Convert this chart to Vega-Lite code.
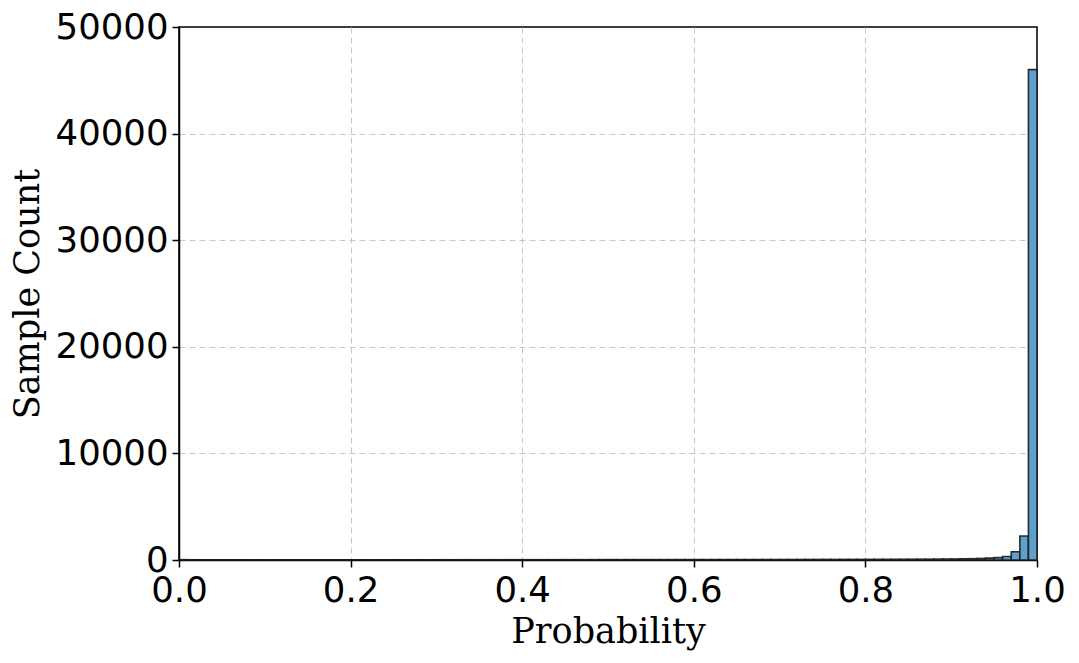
{
  "$schema": "https://vega.github.io/schema/vega-lite/v6.json",
  "width": 858,
  "height": 533,
  "autosize": {"type": "none"},
  "padding": {"left": 179, "top": 27, "right": 42, "bottom": 103},
  "background": "white",
  "config": {
    "view": {"stroke": "black", "strokeWidth": 1.5},
    "axis": {
      "labelFont": "DejaVu Sans",
      "labelFontSize": 35.5,
      "labelColor": "black",
      "titleFont": "DejaVu Serif",
      "titleFontSize": 35,
      "titleFontWeight": "normal",
      "titleColor": "black",
      "domainColor": "black",
      "domainWidth": 1.5,
      "tickColor": "black",
      "tickSize": 7,
      "tickWidth": 1.5,
      "gridColor": "#c8c8c8",
      "gridDash": [6, 4],
      "gridWidth": 1,
      "labelPadding": 4
    }
  },
  "data": {
    "values": [
      {"start": 0.00, "end": 0.01, "count": 30},
      {"start": 0.01, "end": 0.02, "count": 22},
      {"start": 0.02, "end": 0.03, "count": 18},
      {"start": 0.03, "end": 0.04, "count": 20},
      {"start": 0.04, "end": 0.05, "count": 17},
      {"start": 0.05, "end": 0.06, "count": 19},
      {"start": 0.06, "end": 0.07, "count": 16},
      {"start": 0.07, "end": 0.08, "count": 18},
      {"start": 0.08, "end": 0.09, "count": 15},
      {"start": 0.09, "end": 0.10, "count": 17},
      {"start": 0.10, "end": 0.11, "count": 16},
      {"start": 0.11, "end": 0.12, "count": 18},
      {"start": 0.12, "end": 0.13, "count": 15},
      {"start": 0.13, "end": 0.14, "count": 17},
      {"start": 0.14, "end": 0.15, "count": 19},
      {"start": 0.15, "end": 0.16, "count": 16},
      {"start": 0.16, "end": 0.17, "count": 18},
      {"start": 0.17, "end": 0.18, "count": 17},
      {"start": 0.18, "end": 0.19, "count": 19},
      {"start": 0.19, "end": 0.20, "count": 18},
      {"start": 0.20, "end": 0.21, "count": 20},
      {"start": 0.21, "end": 0.22, "count": 18},
      {"start": 0.22, "end": 0.23, "count": 21},
      {"start": 0.23, "end": 0.24, "count": 19},
      {"start": 0.24, "end": 0.25, "count": 20},
      {"start": 0.25, "end": 0.26, "count": 22},
      {"start": 0.26, "end": 0.27, "count": 20},
      {"start": 0.27, "end": 0.28, "count": 21},
      {"start": 0.28, "end": 0.29, "count": 23},
      {"start": 0.29, "end": 0.30, "count": 22},
      {"start": 0.30, "end": 0.31, "count": 24},
      {"start": 0.31, "end": 0.32, "count": 22},
      {"start": 0.32, "end": 0.33, "count": 23},
      {"start": 0.33, "end": 0.34, "count": 25},
      {"start": 0.34, "end": 0.35, "count": 24},
      {"start": 0.35, "end": 0.36, "count": 23},
      {"start": 0.36, "end": 0.37, "count": 26},
      {"start": 0.37, "end": 0.38, "count": 25},
      {"start": 0.38, "end": 0.39, "count": 27},
      {"start": 0.39, "end": 0.40, "count": 26},
      {"start": 0.40, "end": 0.41, "count": 28},
      {"start": 0.41, "end": 0.42, "count": 26},
      {"start": 0.42, "end": 0.43, "count": 29},
      {"start": 0.43, "end": 0.44, "count": 27},
      {"start": 0.44, "end": 0.45, "count": 30},
      {"start": 0.45, "end": 0.46, "count": 29},
      {"start": 0.46, "end": 0.47, "count": 31},
      {"start": 0.47, "end": 0.48, "count": 30},
      {"start": 0.48, "end": 0.49, "count": 32},
      {"start": 0.49, "end": 0.50, "count": 34},
      {"start": 0.50, "end": 0.51, "count": 36},
      {"start": 0.51, "end": 0.52, "count": 33},
      {"start": 0.52, "end": 0.53, "count": 35},
      {"start": 0.53, "end": 0.54, "count": 34},
      {"start": 0.54, "end": 0.55, "count": 36},
      {"start": 0.55, "end": 0.56, "count": 35},
      {"start": 0.56, "end": 0.57, "count": 37},
      {"start": 0.57, "end": 0.58, "count": 36},
      {"start": 0.58, "end": 0.59, "count": 38},
      {"start": 0.59, "end": 0.60, "count": 39},
      {"start": 0.60, "end": 0.61, "count": 40},
      {"start": 0.61, "end": 0.62, "count": 38},
      {"start": 0.62, "end": 0.63, "count": 41},
      {"start": 0.63, "end": 0.64, "count": 40},
      {"start": 0.64, "end": 0.65, "count": 42},
      {"start": 0.65, "end": 0.66, "count": 43},
      {"start": 0.66, "end": 0.67, "count": 42},
      {"start": 0.67, "end": 0.68, "count": 44},
      {"start": 0.68, "end": 0.69, "count": 45},
      {"start": 0.69, "end": 0.70, "count": 44},
      {"start": 0.70, "end": 0.71, "count": 47},
      {"start": 0.71, "end": 0.72, "count": 46},
      {"start": 0.72, "end": 0.73, "count": 48},
      {"start": 0.73, "end": 0.74, "count": 49},
      {"start": 0.74, "end": 0.75, "count": 51},
      {"start": 0.75, "end": 0.76, "count": 53},
      {"start": 0.76, "end": 0.77, "count": 52},
      {"start": 0.77, "end": 0.78, "count": 55},
      {"start": 0.78, "end": 0.79, "count": 57},
      {"start": 0.79, "end": 0.80, "count": 58},
      {"start": 0.80, "end": 0.81, "count": 60},
      {"start": 0.81, "end": 0.82, "count": 62},
      {"start": 0.82, "end": 0.83, "count": 64},
      {"start": 0.83, "end": 0.84, "count": 66},
      {"start": 0.84, "end": 0.85, "count": 69},
      {"start": 0.85, "end": 0.86, "count": 72},
      {"start": 0.86, "end": 0.87, "count": 76},
      {"start": 0.87, "end": 0.88, "count": 80},
      {"start": 0.88, "end": 0.89, "count": 86},
      {"start": 0.89, "end": 0.90, "count": 92},
      {"start": 0.90, "end": 0.91, "count": 100},
      {"start": 0.91, "end": 0.92, "count": 110},
      {"start": 0.92, "end": 0.93, "count": 125},
      {"start": 0.93, "end": 0.94, "count": 145},
      {"start": 0.94, "end": 0.95, "count": 175},
      {"start": 0.95, "end": 0.96, "count": 220},
      {"start": 0.96, "end": 0.97, "count": 330},
      {"start": 0.97, "end": 0.98, "count": 780},
      {"start": 0.98, "end": 0.99, "count": 2250},
      {"start": 0.99, "end": 1.00, "count": 46000}
    ]
  },
  "mark": {
    "type": "rect",
    "fill": "#5f9fcc",
    "stroke": "#1a1a1a",
    "strokeWidth": 1.6,
    "strokeOpacity": 0.9
  },
  "encoding": {
    "x": {
      "field": "start",
      "type": "quantitative",
      "scale": {"domain": [0, 1], "nice": false, "zero": false},
      "axis": {
        "title": "Probability",
        "values": [0, 0.2, 0.4, 0.6, 0.8, 1.0],
        "format": ".1f",
        "labelPadding": 6,
        "titlePadding": 6,
        "labelFlush": false,
        "gridOpacity": {"condition": {"test": "datum.value <= 0 || datum.value >= 1", "value": 0}, "value": 1}
      }
    },
    "x2": {"field": "end"},
    "y": {
      "field": "count",
      "type": "quantitative",
      "scale": {"domain": [0, 50000], "nice": false},
      "axis": {
        "title": "Sample Count",
        "values": [0, 10000, 20000, 30000, 40000, 50000],
        "format": "d",
        "titlePadding": 10,
        "labelFlush": false,
        "gridOpacity": {"condition": {"test": "datum.value <= 0 || datum.value >= 50000", "value": 0}, "value": 1}
      }
    },
    "y2": {"datum": 0}
  }
}
